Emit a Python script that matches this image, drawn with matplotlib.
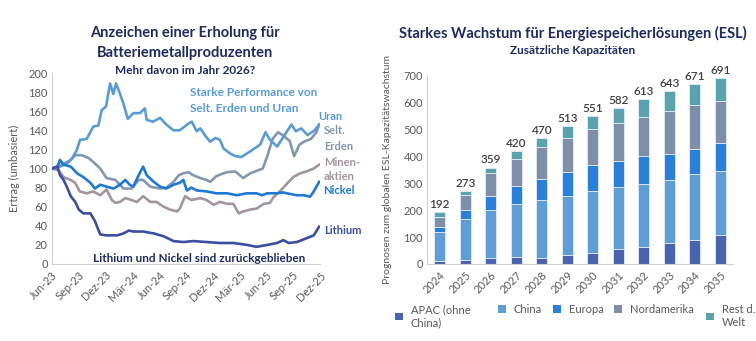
import matplotlib
matplotlib.use("Agg")
import matplotlib.pyplot as plt
import numpy as np
from matplotlib.patches import Patch

plt.rcParams['font.family'] = ['Lato', 'DejaVu Sans']

# ---------------- Left chart data ----------------
tick_labels_left = ["Jun-23", "Sep-23", "Dez-23", "Mär-24", "Jun-24", "Sep-24",
                    "Dez-24", "Mär-25", "Jun-25", "Sep-25", "Dez-25"]

uran_m = [0, 0.9, 1.65, 2.2, 2.76, 3.14, 3.88, 4.63, 5.19, 5.56, 6.05, 6.5, 6.87, 7.17, 7.62,
          7.99, 8.48, 9.11, 9.85, 10.4, 10.6, 11.3, 12.1, 12.8, 13.6, 14.3, 15.27, 15.64, 16.2,
          16.6, 17.1, 17.7, 18.3, 18.8, 19.2, 19.9, 20.5, 21.2, 22.2, 23.3, 23.9, 24.4, 25.2,
          25.9, 26.8, 27.3, 27.9, 28.6, 29.4, 29.9]
uran_v = [100, 102, 105, 110, 119, 130, 131, 144, 145, 161, 165, 189, 178, 189, 178,
          168, 152, 158, 158, 163, 151, 149, 153, 146, 140, 140, 147, 149, 139,
          142, 135, 128, 132, 130, 121, 116, 113, 112, 118, 125, 138, 130, 123,
          133, 146, 139, 142, 135, 140, 146]

erden_m = [0, 0.6, 1.3, 2.1, 2.6, 3.3, 4.1, 4.6, 5.4, 6.1, 7.1, 8.0, 8.9, 9.7, 10.2, 11.0,
           12.1, 12.8, 13.6, 14.2, 14.7, 15.3, 15.8, 16.6, 17.3, 17.7, 18.4, 19.5, 20.5, 21.4,
           22.2, 23.6, 24.1, 24.7, 25.3, 25.8, 26.6, 27.1, 27.7, 28.2, 29.0, 29.6, 29.9]
erden_v = [100, 102, 105, 109, 114, 114, 111, 107, 100, 90, 88, 79, 79, 88, 88, 81,
           79, 80, 86, 93, 95, 96, 93, 90, 88, 86, 92, 96, 97, 90,
           95, 100, 113, 131, 138, 135, 129, 113, 125, 128, 131, 138, 146]

minen_m = [0, 0.75, 1.3, 2.1, 2.6, 3.1, 3.9, 4.6, 5.4, 6.1, 6.7, 7.1, 7.6, 8.2, 8.9, 9.5,
           10.2, 11.0, 11.7, 12.5, 13.2, 14.0, 14.3, 14.9, 15.6, 16.6, 17.3, 18.1, 18.8, 19.6,
           20.3, 20.9, 21.4, 22.2, 22.9, 23.7, 24.4, 24.8, 25.5, 26.3, 27.0, 27.8, 28.5, 29.3,
           29.9]
minen_v = [100, 98, 91, 88, 85, 76, 74, 76, 72, 78, 67, 64, 65, 69, 67, 65,
           71, 65, 65, 60, 57, 55, 58, 71, 67, 69, 67, 62, 65, 63,
           63, 53, 55, 57, 58, 63, 64, 70, 76, 84, 91, 95, 97, 100,
           104]

nickel_m = [0, 0.6, 0.9, 1.3, 2.1, 2.8, 3.5, 4.3, 4.8, 5.4, 6.1, 6.9, 7.6, 8.2, 8.7, 9.1,
            9.7, 10.2, 10.6, 11.4, 12.1, 12.8, 13.6, 14.3, 14.7, 15.1, 15.6, 16.2, 17.3, 18.4,
            19.6, 20.7, 21.8, 22.9, 23.5, 24.1, 25.2, 25.8, 26.3, 27.4, 28.2, 28.9, 29.3, 29.9]
nickel_v = [100, 102, 109, 104, 102, 95, 91, 85, 79, 83, 81, 79, 83, 88, 83, 81,
            93, 102, 93, 86, 81, 79, 83, 85, 88, 77, 80, 77, 76, 74,
            74, 72, 74, 74, 72, 74, 74, 75, 74, 72, 72, 70.5, 76, 86]

lith_m = [0, 0.6, 0.9, 1.3, 1.65, 2.1, 2.6, 3.0, 3.5, 4.3, 4.8, 5.4, 6.1, 7.3, 8.0, 8.6,
          9.1, 10.2, 11.4, 12.5, 13.6, 14.7, 15.8, 17.3, 18.8, 20.3, 21.8, 22.9, 24.1, 25.2,
          25.9, 26.5, 27.4, 28.5, 29.3, 29.9]
lith_v = [100, 102, 93, 88, 81, 71, 65, 57, 53, 53, 45, 31, 30, 30, 32, 35,
          34, 34, 32, 29, 24, 23, 24, 23, 22, 22, 20, 18, 20, 22,
          25, 22, 23, 27, 30, 39]

# ---------------- Right chart data ----------------
years = ["2024", "2025", "2026", "2027", "2028", "2029", "2030", "2031", "2032", "2033", "2034", "2035"]
apac = [10, 14, 21, 25, 24, 32, 40, 55, 64, 77, 90, 107]
china = [109, 153, 179, 199, 214, 222, 231, 232, 235, 236, 246, 240]
europa = [18, 33, 55, 65, 80, 90, 96, 95, 104, 98, 94, 105]
nordamerika = [38, 56, 82, 101, 117, 127, 134, 142, 146, 158, 162, 155]
rest = [17, 17, 22, 30, 35, 42, 50, 58, 64, 74, 79, 84]
totals = [192, 273, 359, 420, 470, 513, 551, 582, 613, 643, 671, 691]
legend_labels = ["APAC (ohne\nChina)", "China", "Europa", "Nordamerika", "Rest d.\nWelt"]

# ---------------- Figure ----------------
W, H = 756, 341
fig = plt.figure(figsize=(W / 100, H / 100), dpi=100)

def fx(px):
    return px / W

def fy(py):
    return 1 - py / H

navy = "#1f2b5e"
grey_txt = "#595959"
spine_c = "#d0d0d0"

# Left axes
ax1 = fig.add_axes([fx(52), fy(264), fx(320) - fx(52), fy(73) - fy(264)])
c_uran = "#5b9bd5"
c_erden = "#8497b0"
c_minen = "#a3959f"
c_nickel = "#1f78d2"
c_lith = "#3b4e9f"
lw = 1.9
ax1.plot(minen_m, minen_v, color=c_minen, lw=lw, zorder=2)
ax1.plot(erden_m, erden_v, color=c_erden, lw=lw, zorder=3)
ax1.plot(uran_m, uran_v, color=c_uran, lw=lw, zorder=3)
ax1.plot(nickel_m, nickel_v, color=c_nickel, lw=lw, zorder=4)
ax1.plot(lith_m, lith_v, color=c_lith, lw=lw, zorder=4)
ax1.set_xlim(0, 30)
ax1.set_ylim(0, 200)
ax1.set_yticks(range(0, 201, 20))
ax1.set_xticks(range(0, 31, 3))
ax1.set_xticklabels(tick_labels_left, rotation=45, ha="right", rotation_mode="anchor")
for s in ["top", "right"]:
    ax1.spines[s].set_visible(False)
for s in ["left", "bottom"]:
    ax1.spines[s].set_color(spine_c)
ax1.tick_params(length=0, labelsize=8, colors=grey_txt, pad=3)
ax1.tick_params(axis="x", pad=4)
ax1.set_ylabel("Ertrag (umbasiert)", fontsize=8, color=grey_txt, labelpad=6)

fig.text(fx(185), fy(33), "Anzeichen einer Erholung für", ha="center", va="center",
         fontsize=10.5, fontweight="bold", color=navy)
fig.text(fx(185), fy(53), "Batteriemetallproduzenten", ha="center", va="center",
         fontsize=10.5, fontweight="bold", color=navy)
fig.text(fx(185), fy(71), "Mehr davon im Jahr 2026?", ha="center", va="center",
         fontsize=8.5, fontweight="bold", color=navy)
fig.text(fx(190), fy(93), "Starke Performance von", ha="left", va="center",
         fontsize=8.5, fontweight="bold", color=c_uran)
fig.text(fx(190), fy(109), "Selt. Erden und Uran", ha="left", va="center",
         fontsize=8.5, fontweight="bold", color=c_uran)
fig.text(fx(199), fy(259), "Lithium und Nickel sind zurückgeblieben", ha="center", va="center",
         fontsize=8.5, fontweight="bold", color=navy)
fig.text(fx(318), fy(117), "Uran", ha="left", va="center", fontsize=8, color=c_uran, fontweight="bold")
fig.text(fx(324), fy(131), "Selt.", ha="left", va="center", fontsize=8, color=c_erden, fontweight="bold")
fig.text(fx(324), fy(146), "Erden", ha="left", va="center", fontsize=8, color=c_erden, fontweight="bold")
fig.text(fx(324), fy(162), "Minen-", ha="left", va="center", fontsize=8, color=c_minen, fontweight="bold")
fig.text(fx(324), fy(177), "aktien", ha="left", va="center", fontsize=8, color=c_minen, fontweight="bold")
fig.text(fx(323), fy(191), "Nickel", ha="left", va="center", fontsize=8, color=c_nickel, fontweight="bold")
fig.text(fx(324), fy(230), "Lithium", ha="left", va="center", fontsize=8, color=c_lith, fontweight="bold")

# Right axes
ax2 = fig.add_axes([fx(427), fy(264), fx(733) - fx(427), fy(76) - fy(264)])
x = np.arange(len(years))
series = [apac, china, europa, nordamerika, rest]
colors = ["#4a63ae", "#5f9dd5", "#2a80d8", "#808fa9", "#5aa3ad"]
bottom = np.zeros(len(years))
for vals, col in zip(series, colors):
    ax2.bar(x, vals, width=0.42, bottom=bottom, color=col, edgecolor="#e3ecf6", linewidth=0.6, zorder=2)
    bottom += np.array(vals)
for xi, t in zip(x, totals):
    ax2.text(xi, t + 8, str(t), ha="center", va="bottom", fontsize=8.5, color="#404040",
             fontweight="semibold")
ax2.set_xlim(-0.5, 11.5)
ax2.set_ylim(0, 700)
ax2.set_yticks(range(0, 701, 100))
ax2.set_xticks(x)
ax2.set_xticklabels(years, rotation=45, ha="right", rotation_mode="anchor")
for s in ["top", "right"]:
    ax2.spines[s].set_visible(False)
for s in ["left", "bottom"]:
    ax2.spines[s].set_color(spine_c)
ax2.tick_params(length=0, labelsize=8, colors=grey_txt, pad=3)
ax2.tick_params(axis="x", pad=4)
ax2.set_ylabel("Prognosen zum globalen ESL-Kapazitätswachstum", fontsize=7.5, color=grey_txt,
               labelpad=8)

fig.text(fx(573), fy(33), "Starkes Wachstum für Energiespeicherlösungen (ESL)", ha="center",
         va="center", fontsize=10.5, fontweight="bold", color=navy)
fig.text(fx(573), fy(50), "Zusätzliche Kapazitäten", ha="center", va="center",
         fontsize=8.5, fontweight="bold", color=navy)

# Legend: one entry per legend box, placed like the reference
legend_x = [395, 498, 553, 614, 706]
for lx, lab, col in zip(legend_x, legend_labels, colors):
    leg = fig.legend([Patch(facecolor=col, edgecolor="none")], [lab], loc="upper left",
                     bbox_to_anchor=(fx(lx), fy(304)), frameon=False, fontsize=8,
                     handlelength=0.7, handleheight=0.7, handletextpad=0.7,
                     borderaxespad=0, borderpad=0)
    for t in leg.get_texts():
        t.set_color(grey_txt)

fig.savefig("out.png", dpi=100)
